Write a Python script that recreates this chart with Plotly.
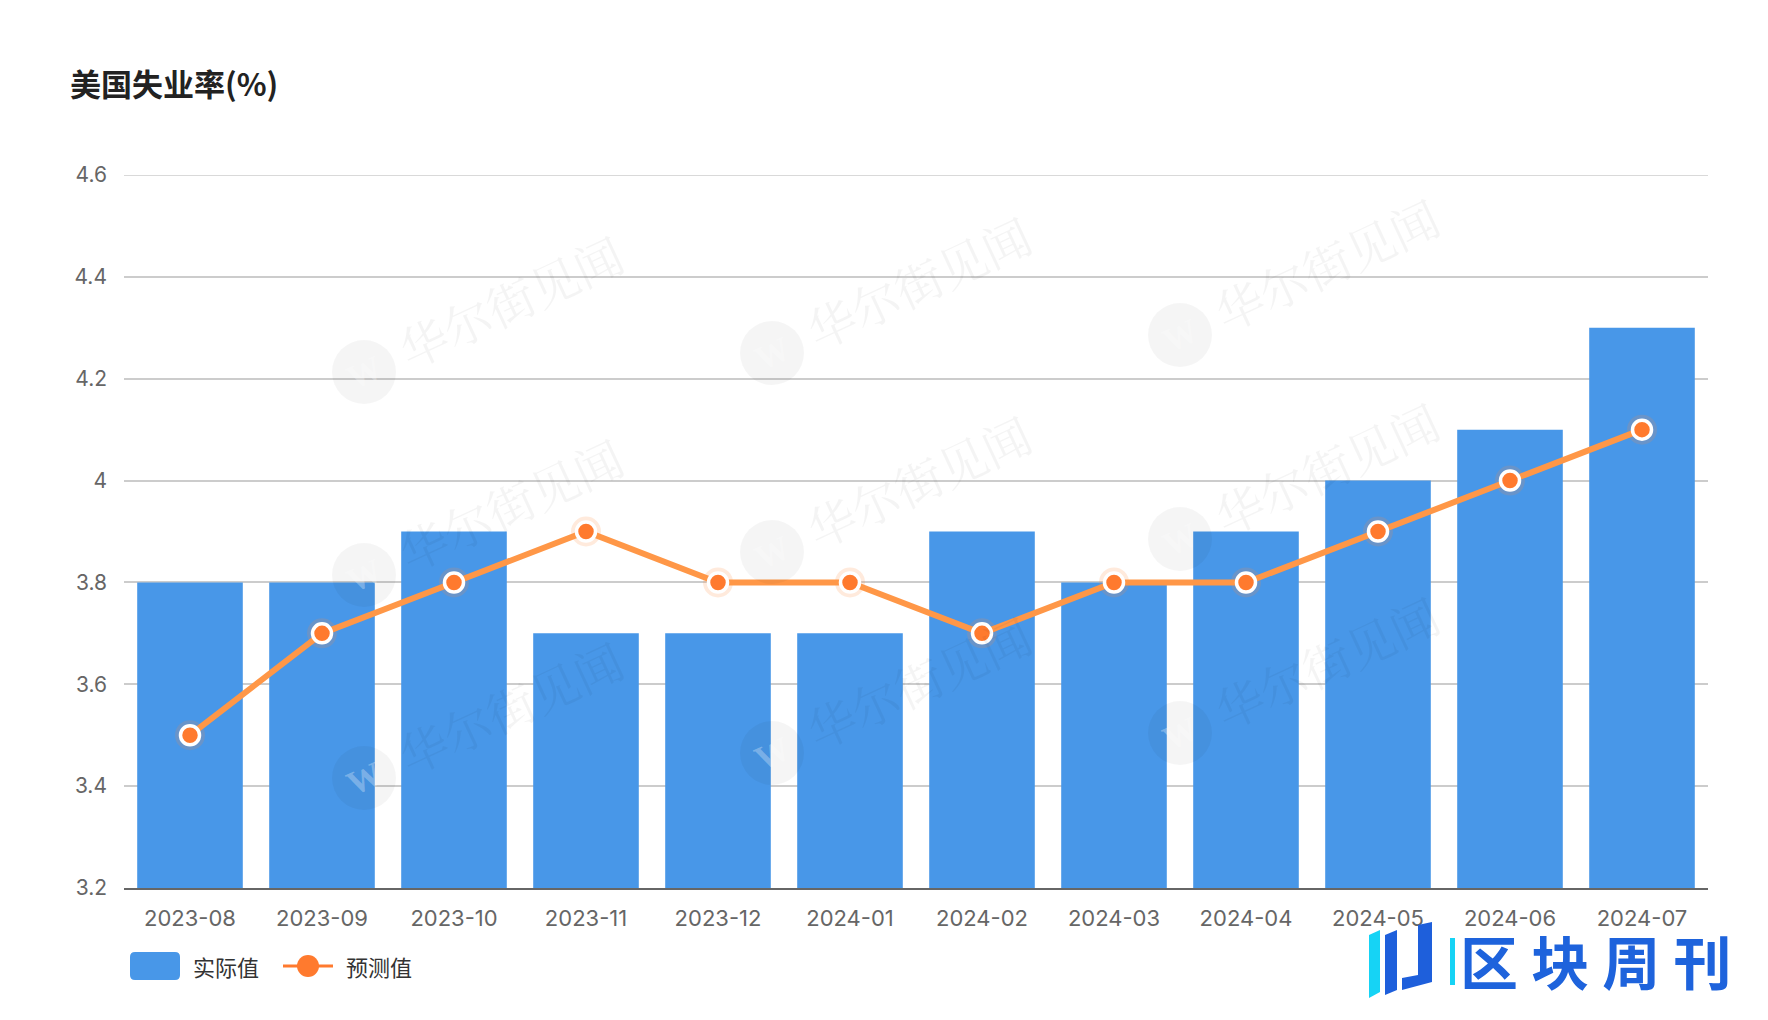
import plotly.graph_objects as go

months = ["2023-08", "2023-09", "2023-10", "2023-11", "2023-12", "2024-01",
          "2024-02", "2024-03", "2024-04", "2024-05", "2024-06", "2024-07"]
actual = [3.8, 3.8, 3.9, 3.7, 3.7, 3.7, 3.9, 3.8, 3.9, 4.0, 4.1, 4.3]
forecast = [3.5, 3.7, 3.8, 3.9, 3.8, 3.8, 3.7, 3.8, 3.8, 3.9, 4.0, 4.1]
y_ticks = [3.2, 3.4, 3.6, 3.8, 4.0, 4.2, 4.4, 4.6]
y_labels = ["3.2", "3.4", "3.6", "3.8", "4", "4.2", "4.4", "4.6"]

W, H = 1768, 1020
L, R, T, B = 124, 60, 175, 132
PW, PH = W - L - R, H - T - B

def px(x):
    return (x - L) / PW

def py(y):
    return (H - B - y) / PH

FONT = "Inter, Helvetica Neue, Liberation Sans, Noto Sans CJK SC, sans-serif"
CJK = "Noto Sans CJK SC, sans-serif"
BAR = "#4897E8"
LINE = "#FF9747"
DOT = "#FF7A2E"

fig = go.Figure()
fig.add_trace(go.Bar(x=months, y=actual, name="实际值", marker=dict(color=BAR, line=dict(width=0)),
                     showlegend=False))
# soft glow under markers
fig.add_trace(go.Scatter(x=months, y=forecast, mode="markers", showlegend=False, hoverinfo="skip",
                         marker=dict(size=30, color="rgba(255,140,60,0.18)", line=dict(width=0))))
fig.add_trace(go.Scatter(x=months, y=forecast, name="预测值", mode="lines+markers", showlegend=False,
                         line=dict(color=LINE, width=6),
                         marker=dict(size=19, color=DOT, line=dict(color="white", width=3.5))))

fig.update_layout(
    width=W, height=H,
    margin=dict(l=L, r=R, t=T, b=B),
    paper_bgcolor="white", plot_bgcolor="white",
    bargap=0.2,
    title=dict(text="<b>美国失业率(%)</b>", x=70 / W, xanchor="left", xref="container",
               y=1 - 85 / H, yanchor="middle", font=dict(family=CJK, size=31, color="#222222")),
    font=dict(family=FONT, color="#666666"),
)
fig.update_xaxes(type="category", range=[-0.5, len(months) - 0.5], showgrid=False, showline=True,
                 linecolor="#666666", linewidth=2,
                 ticks="", tickfont=dict(size=22, color="#666666", family=FONT), ticklabelstandoff=10,
                 zeroline=False)
fig.update_yaxes(range=[y_ticks[0], y_ticks[-1]], tickvals=y_ticks, ticktext=y_labels, showgrid=True,
                 gridcolor="#CCCCCC", gridwidth=1.5, zeroline=False, showline=False,
                 tickfont=dict(size=21, color="#666666", family=FONT), ticklabelstandoff=16)
# top gridline (plotly drops the one on the plot edge)
fig.add_shape(type="line", xref="paper", yref="y", x0=0, x1=1, y0=y_ticks[-1], y1=y_ticks[-1],
              line=dict(color="#CCCCCC", width=1.5), layer="below")

# watermarks
wm_pos = [(364, 372), (772, 353), (1180, 335), (364, 575), (772, 552), (1180, 539),
          (364, 778), (772, 753), (1180, 733)]
for (x, y) in wm_pos:
    fig.add_shape(type="circle", xref="paper", yref="paper",
                  x0=px(x - 32), x1=px(x + 32), y0=py(y + 32), y1=py(y - 32),
                  fillcolor="rgba(0,0,0,0.04)", line=dict(width=0), layer="above")
    fig.add_annotation(x=px(x), y=py(y), xref="paper", yref="paper", text="<b>W</b>",
                       xanchor="center", yanchor="middle", showarrow=False, textangle=-25,
                       font=dict(family="Liberation Serif, serif", size=34, color="rgba(255,255,255,0.3)"))
    fig.add_annotation(x=px(x + 146), y=py(y - 72), xref="paper", yref="paper", text="华尔街见闻",
                       xanchor="center", yanchor="middle",
                       showarrow=False, textangle=-25,
                       font=dict(family="Noto Serif CJK SC, Noto Sans CJK SC", size=48,
                                 color="rgba(0,0,0,0.045)"))

# legend (manual)
fig.add_shape(type="path", xref="paper", yref="paper",
              path=(f"M {px(135)},{py(952)} L {px(175)},{py(952)} Q {px(180)},{py(952)} {px(180)},{py(957)} "
                    f"L {px(180)},{py(975)} Q {px(180)},{py(980)} {px(175)},{py(980)} L {px(135)},{py(980)} "
                    f"Q {px(130)},{py(980)} {px(130)},{py(975)} L {px(130)},{py(957)} Q {px(130)},{py(952)} {px(135)},{py(952)} Z"),
              fillcolor=BAR, line=dict(width=0))
fig.add_annotation(x=px(191), y=py(966), xref="paper", yref="paper", xanchor="left", yanchor="middle",
                   text="实际值", showarrow=False, font=dict(family=CJK, size=22, color="#333333"))
fig.add_shape(type="line", xref="paper", yref="paper", x0=px(283), x1=px(333), y0=py(966), y1=py(966),
              line=dict(color=DOT, width=3))
fig.add_shape(type="circle", xref="paper", yref="paper", x0=px(297), x1=px(319), y0=py(977), y1=py(955),
              fillcolor=DOT, line=dict(width=0))
fig.add_annotation(x=px(344), y=py(966), xref="paper", yref="paper", xanchor="left", yanchor="middle",
                   text="预测值", showarrow=False, font=dict(family=CJK, size=22, color="#333333"))

# logo bottom-right
fig.add_shape(type="path", xref="paper", yref="paper",
              path=f"M {px(1369)},{py(935)} L {px(1380)},{py(930)} L {px(1380)},{py(992)} L {px(1369)},{py(998)} Z",
              fillcolor="#16D3F5", line=dict(width=0))
fig.add_shape(type="path", xref="paper", yref="paper",
              path=f"M {px(1385)},{py(935)} L {px(1397)},{py(930)} L {px(1397)},{py(990)} L {px(1385)},{py(995)} Z",
              fillcolor="#1E5FDB", line=dict(width=0))
fig.add_shape(type="path", xref="paper", yref="paper",
              path=f"M {px(1418)},{py(925)} L {px(1432)},{py(922)} L {px(1432)},{py(982)} L {px(1402)},{py(990)} L {px(1402)},{py(978)} L {px(1418)},{py(975)} Z",
              fillcolor="#1E5FDB", line=dict(width=0))
fig.add_shape(type="rect", xref="paper", yref="paper", x0=px(1450), x1=px(1455), y0=py(985), y1=py(938),
              fillcolor="#16D3F5", line=dict(width=0))
fig.add_annotation(x=px(1458), y=py(960), xref="paper", yref="paper", xanchor="left", yanchor="middle",
                   text="<b>区 块 周 刊</b>", showarrow=False,
                   font=dict(family=CJK, size=58, color="#1E63DC"))

fig.write_html("out.html")
